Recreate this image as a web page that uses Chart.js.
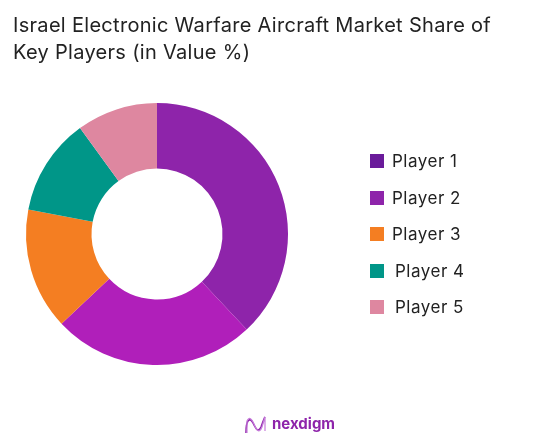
<!DOCTYPE html>
<html>
<head>
<meta charset="utf-8">
<script src="https://cdn.jsdelivr.net/npm/chart.js@4.4.0/dist/chart.umd.min.js"></script>
<style>
  html, body { margin:0; padding:0; background:#fff; }
  #wrap { position:relative; width:559px; height:441px; overflow:hidden; font-family: Inter, "Open Sans", sans-serif; }
  #c { position:absolute; left:0; top:0; }
  #title { position:absolute; left:13px; top:12px; font-size:20px; line-height:27px; color:#222; letter-spacing:0.3px; }
  #legend { position:absolute; left:370px; top:151px; }
  .item { position:absolute; left:0; height:20px; white-space:nowrap; font-size:17px; letter-spacing:0.5px; color:#222; }
  .box { position:absolute; left:0; top:3px; width:14px; height:14px; }
  .lbl { position:absolute; left:22px; top:0; line-height:20px; }
  #logo { position:absolute; left:244px; top:415px; height:20px; }
  #logo span { position:absolute; left:28px; top:-1px; font-size:15px; font-weight:700; color:#8e24aa; line-height:20px; }
</style>
</head>
<body>
<div id="wrap">
  <canvas id="c" width="559" height="441"></canvas>
  <div id="title">Israel Electronic Warfare Aircraft Market Share of<br>Key Players (in Value %)</div>
  <div id="legend"></div>
  <div id="logo">
    <svg width="24" height="20" viewBox="0 0 24 20">
      <path d="M2 18 C2 4, 6 2, 9 8 C12 14, 14 18, 17 12 C19 7, 20 3, 21 2" stroke="#8e24aa" stroke-width="1.6" fill="none"/>
      <path d="M3 18 L3 6 C5 1, 8 4, 10 9 C12 14, 15 20, 18 12 L21 2 L21 16" stroke="#c77ddb" stroke-width="1.2" fill="none"/>
    </svg>
    <span>nexdigm</span>
  </div>
</div>
<script>
const categories = ["Player 1", "Player 2", "Player 3", "Player 4", "Player 5"];
const shareValues = [38, 25, 15, 12, 10];
const sliceColors = ["#8e24aa", "#b01fba", "#f47e22", "#009688", "#de87a0"];
const legendColors = ["#6a1b9a", "#8e24aa", "#f47e22", "#009688", "#de87a0"];

const legend = document.getElementById('legend');
const rowTops = [0, 37, 73, 110, 146];
const rowOffsets = [0, 0, 0, 3, 3];
categories.forEach((name, i) => {
  const it = document.createElement('div');
  it.className = 'item';
  it.style.top = rowTops[i] + 'px';
  const b = document.createElement('div');
  b.className = 'box';
  b.style.background = legendColors[i];
  const l = document.createElement('div');
  l.className = 'lbl';
  l.style.left = (22 + rowOffsets[i]) + 'px';
  l.textContent = name;
  it.appendChild(b); it.appendChild(l);
  legend.appendChild(it);
});

new Chart(document.getElementById('c'), {
  type: 'doughnut',
  data: {
    labels: categories,
    datasets: [{ data: shareValues, backgroundColor: sliceColors, borderWidth: 0 }]
  },
  options: {
    responsive: false,
    animation: false,
    cutout: '50%',
    layout: { padding: { left: 26, top: 103, right: 271, bottom: 76 } },
    plugins: { legend: { display: false }, tooltip: { enabled: false }, title: { display: false } }
  }
});
</script>
</body>
</html>
